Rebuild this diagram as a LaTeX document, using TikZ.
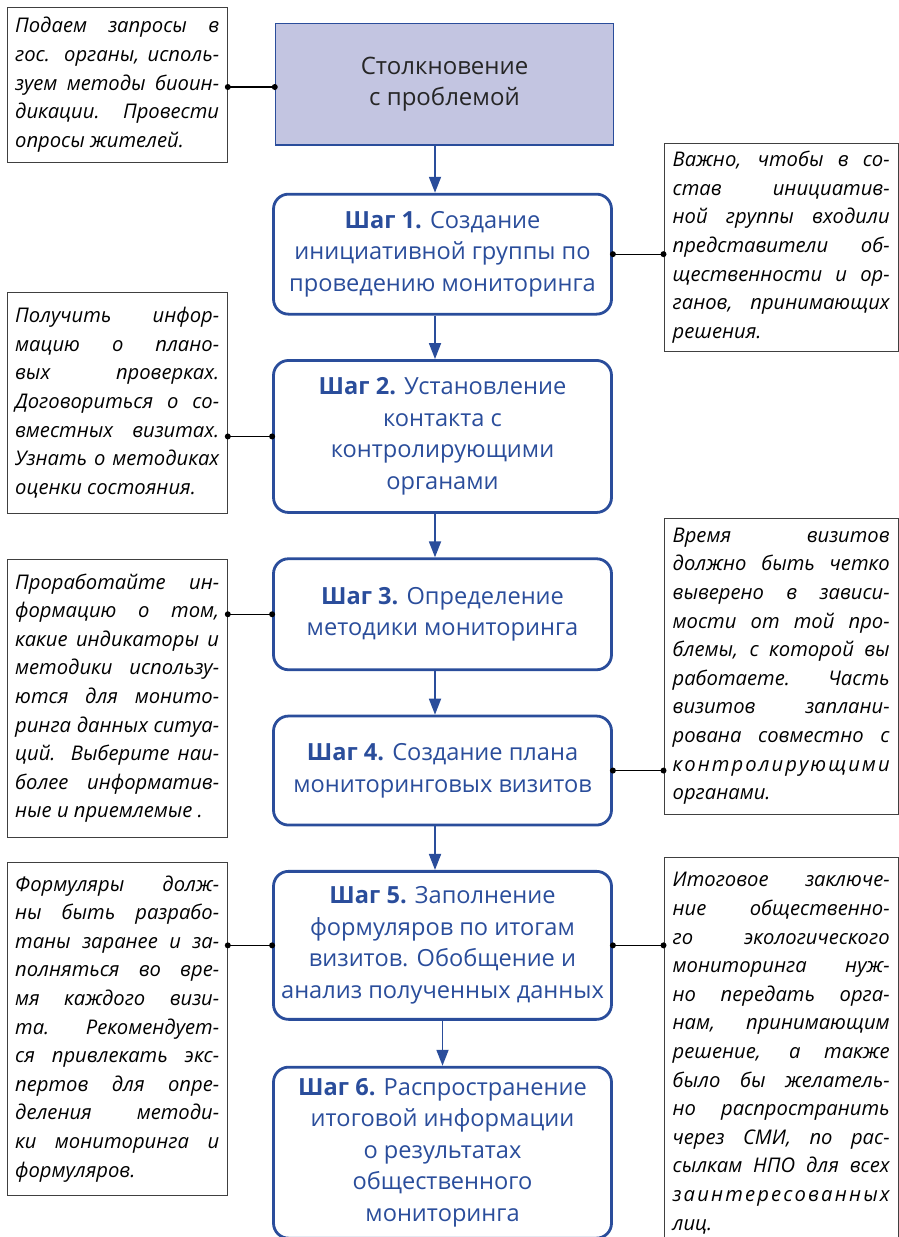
\documentclass[tikz,border=0pt]{standalone}
\usepackage{fontspec}
\setmainfont{Open Sans}
\usetikzlibrary{arrows.meta, positioning, calc}
\definecolor{stepblue}{HTML}{2A4D9B}
\definecolor{probfill}{HTML}{C3C5E1}

\tikzset{
  probbox/.style={draw=stepblue, line width=1.5pt, fill=probfill, align=center, anchor=north,
    minimum width=338pt, minimum height=121.5pt, text=black!85, font=\fontsize{24}{31.5}\selectfont},
  stepbox/.style={draw=stepblue, line width=2.8pt, rounded corners=15pt, text=stepblue, align=center,
    minimum width=338pt, font=\fontsize{23.6}{31.5}\selectfont},
  notebox/.style={draw=black!75, line width=1.3pt, align=justify, anchor=north west,
    inner xsep=8pt, font=\itshape\fontsize{20.2}{28.6}\selectfont},
  leftnote/.style={notebox, minimum width=220pt, text width=204pt},
  rightnote/.style={notebox, minimum width=234pt, text width=217pt},
  flow/.style={draw=stepblue, line width=1.8pt, -{Triangle[length=16pt,width=12pt]}},
  link/.style={draw=black, line width=1.3pt},
  dot/.style={circle, fill=black, inner sep=0pt, minimum size=6pt}
}

\begin{document}
\begin{tikzpicture}[x=1pt, y=-1pt, node distance=43.5pt]
\useasboundingbox (0,0) rectangle (899,1237);

% Main column
\node (prob) [probbox] at (444.5,22.75) {Столкновение\\с проблемой};
\node (s1) [stepbox, minimum height=120pt, below=47pt of prob, xshift=-2pt] {\textbf{Шаг 1.} Создание\\инициативной группы по\\проведению мониторинга};
\node (s2) [stepbox, minimum height=152pt, below=of s1] {\textbf{Шаг 2.} Установление\\контакта с\\контролирующими\\органами};
\node (s3) [stepbox, minimum height=111pt, below=of s2] {\textbf{Шаг 3.} Определение\\методики мониторинга};
\node (s4) [stepbox, minimum height=109pt, below=of s3] {\textbf{Шаг 4.} Создание плана\\мониторинговых визитов};
\node (s5) [stepbox, minimum height=148pt, below=of s4] {\textbf{Шаг 5.} Заполнение\\формуляров по итогам\\визитов. Обобщение и\\анализ полученных данных};
\node (s6) [stepbox, minimum height=171pt, below=45pt of s5] {\textbf{Шаг 6.} Распространение\\итоговой информации\\о результатах\\общественного\\мониторинга};

\draw[flow] ([xshift=-9.5pt]prob.south) -- ([xshift=-7.5pt]s1.north);
\draw[flow] ([xshift=-7.5pt]s1.south) -- ([xshift=-7.5pt]s2.north);
\draw[flow] ([xshift=-7.5pt]s2.south) -- ([xshift=-7.5pt]s3.north);
\draw[flow] ([xshift=-7.5pt]s3.south) -- ([xshift=-7.5pt]s4.north);
\draw[flow] ([xshift=-7.5pt]s4.south) -- ([xshift=-7.5pt]s5.north);
\draw[flow] (s5.south) -- (s6.north);

% Notes on the left
\node (n1) [leftnote, minimum height=155pt] at (6.5,6.5) {Подаем запросы в\linebreak
гос. органы, исполь-\linebreak
зуем методы биоин-\linebreak
дикации. Провести\linebreak
опросы жителей.};
\node (n2) [leftnote, minimum height=221pt] at (6.5,291.5) {Получить инфор-\linebreak
мацию о плано-\linebreak
вых проверках.\linebreak
Договориться о со-\linebreak
вместных визитах.\linebreak
Узнать о методиках\linebreak
оценки состояния.};
\node (n3) [leftnote, minimum height=278pt] at (6.5,558.5) {Проработайте ин-\linebreak
формацию о том,\linebreak
какие индикаторы и\linebreak
методики использу-\linebreak
ются для монито-\linebreak
ринга данных ситуа-\linebreak
ций. Выберите наи-\linebreak
более информатив-\linebreak
ные и приемлемые .};
\node (n4) [leftnote, minimum height=333pt] at (6.5,861.5) {Формуляры долж-\linebreak
ны быть разрабо-\linebreak
таны заранее и за-\linebreak
полняться во вре-\linebreak
мя каждого визи-\linebreak
та. Рекомендует-\linebreak
ся привлекать экс-\linebreak
пертов для опре-\linebreak
деления методи-\linebreak
ки мониторинга и\linebreak
формуляров.};

% Notes on the right
\node (n5) [rightnote, minimum height=208pt] at (663.5,142.5) {Важно, чтобы в со-\linebreak
став инициатив-\linebreak
ной группы входили\linebreak
представители об-\linebreak
щественности и ор-\linebreak
ганов, принимающих\linebreak
решения.};
\node (n6) [rightnote, minimum height=296pt] at (663.5,517.5) {Время визитов\linebreak
должно быть четко\linebreak
выверено в зависи-\linebreak
мости от той про-\linebreak
блемы, с которой вы\linebreak
работаете. Часть\linebreak
визитов заплани-\linebreak
рована совместно с\linebreak
\hbox to \hsize{к\hfil о\hfil н\hfil т\hfil р\hfil о\hfil л\hfil и\hfil р\hfil у\hfil ю\hfil щ\hfil и\hfil м\hfil и}\linebreak
органами.};
\node (n7) [rightnote, minimum height=392pt] at (663.5,856.5) {Итоговое заключе-\linebreak
ние общественно-\linebreak
го экологического\linebreak
мониторинга нуж-\linebreak
но передать орга-\linebreak
нам, принимающим\linebreak
решение, а также\linebreak
было бы желатель-\linebreak
но распространить\linebreak
через СМИ, по рас-\linebreak
сылкам НПО для всех\linebreak
\hbox to \hsize{з\hfil а\hfil и\hfil н\hfil т\hfil е\hfil р\hfil е\hfil с\hfil о\hfil в\hfil а\hfil н\hfil н\hfil ы\hfil х}\linebreak
лиц.};

% Links
\draw[link] (prob.west |- 0,87) node[dot] {} -- (n1.east |- 0,87) node[dot] {};
\draw[link] (s2.west) node[dot] {} -- (s2.west -| n2.east) node[dot] {};
\draw[link] (s3.west) node[dot] {} -- (s3.west -| n3.east) node[dot] {};
\draw[link] (s5.west) node[dot] {} -- (s5.west -| n4.east) node[dot] {};
\draw[link] (s1.east) node[dot] {} -- (s1.east -| n5.west) node[dot] {};
\draw[link] (s4.east) node[dot] {} -- (s4.east -| n6.west) node[dot] {};
\draw[link] (s5.east) node[dot] {} -- (s5.east -| n7.west) node[dot] {};
\end{tikzpicture}
\end{document}
